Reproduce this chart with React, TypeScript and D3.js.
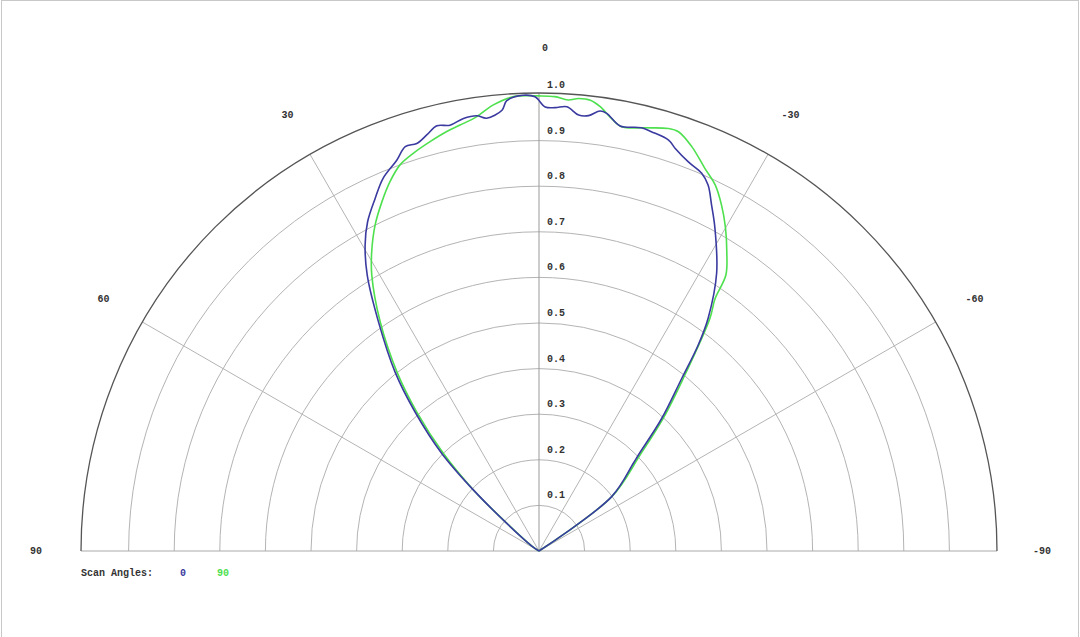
import React, { useEffect, useRef } from 'react'
import * as d3 from 'd3'

// scan angle 0 (blue), degrees (+ = left) and relative amplitude
const blueAngles = [-90, -60, -53.2, -47.1, -46.0, -42.8, -39.6, -37.7, -36.0, -32.6, -28.6, -26.5, -24.8, -23.3, -21.0, -18.7, -17.5, -15.0, -13.6, -10.8, -8.8, -7.9, -6.5, -5.2, -3.6, -2.1, -0.8, 0.5, 2.0, 4.1, 4.8, 6.9, 8.1, 9.9, 11.8, 13.5, 15.1, 16.7, 18.3, 20.0, 22.7, 24.9, 27.5, 29.6, 31.9, 35.0, 38.8, 41.7, 44.9, 47.1, 49.4, 55, 90]
const blueValues = [0, 0, 0.199, 0.282, 0.303, 0.396, 0.491, 0.571, 0.631, 0.723, 0.806, 0.848, 0.884, 0.902, 0.914, 0.932, 0.945, 0.952, 0.955, 0.949, 0.971, 0.974, 0.961, 0.96, 0.976, 0.973, 0.974, 0.996, 1.0, 0.99, 0.97, 0.956, 0.964, 0.963, 0.954, 0.959, 0.945, 0.933, 0.934, 0.912, 0.886, 0.853, 0.814, 0.772, 0.713, 0.614, 0.504, 0.409, 0.302, 0.196, 0.093, 0.02, 0]

// scan angle 90 (green)
const greenAngles = [-90, -60, -53.2, -46.5, -43.1, -39.9, -36.3, -34.9, -34.1, -32.1, -30.0, -27.8, -25.7, -23.4, -20.7, -18.4, -17.0, -14.1, -11.0, -9.5, -7.8, -6.5, -5.0, -3.7, -2.0, 0, 3.2, 5.9, 8.2, 10.5, 12.4, 14.9, 17.5, 19.8, 22.0, 24.2, 26.7, 29.2, 31.2, 34.7, 38.4, 41.3, 44.4, 47.0, 49.2, 55, 90]
const greenValues = [0, 0, 0.2, 0.305, 0.399, 0.493, 0.633, 0.675, 0.731, 0.775, 0.818, 0.858, 0.891, 0.915, 0.948, 0.969, 0.969, 0.957, 0.948, 0.962, 0.984, 0.995, 0.996, 0.991, 0.997, 0.998, 0.998, 0.983, 0.962, 0.95, 0.942, 0.929, 0.915, 0.9, 0.873, 0.84, 0.8, 0.752, 0.708, 0.612, 0.502, 0.407, 0.3, 0.198, 0.094, 0.02, 0]

const ringTicks = [0.1, 0.2, 0.3, 0.4, 0.5, 0.6, 0.7, 0.8, 0.9, 1.0]
const spokeAngles = [90, 60, 30, 0, -30, -60, -90]
const legendLabels = ['0', '90']

const BLUE = '#3a3aa0'
const GREEN = '#4ee04e'
const FONT = '"Liberation Mono", "DejaVu Sans Mono", monospace'

const App = () => {
    const ref = useRef<SVGSVGElement>(null)

    useEffect(() => {
        draw()
    })

    const draw = () => {
        const width = 1080
        const height = 637
        const cx = 539
        const cy = 551
        const outer = 458

        const r = d3.scaleLinear().domain([0, 1]).range([0, outer - 2])
        const rad = (deg: number) => (deg * Math.PI) / 180

        const svg = d3.select(ref.current)
        svg.selectAll('*').remove()
        svg.attr('width', width).attr('height', height)

        svg.append('rect').attr('width', width).attr('height', height).attr('fill', '#fff')
        svg.append('rect')
            .attr('x', 1.5).attr('y', 0.5)
            .attr('width', width - 3).attr('height', height + 2)
            .attr('fill', 'none').attr('stroke', '#c8c8c8')

        const g = svg.append('g').attr('transform', `translate(${cx},${cy})`)

        const semi = (rr: number) => `M${-rr},0A${rr},${rr} 0 0 1 ${rr},0`

        // rings
        g.selectAll('.ring')
            .data(ringTicks.slice(0, -1))
            .enter()
            .append('path')
            .attr('d', (d) => semi(r(d)))
            .attr('fill', 'none')
            .attr('stroke', '#b4b4b4')
            .attr('stroke-width', 1)

        // spokes
        g.selectAll('.spoke')
            .data(spokeAngles.filter((a) => Math.abs(a) < 90))
            .enter()
            .append('line')
            .attr('x1', 0).attr('y1', 0)
            .attr('x2', (d) => -outer * Math.sin(rad(d)))
            .attr('y2', (d) => -outer * Math.cos(rad(d)))
            .attr('stroke', (d) => (d === 0 ? '#999' : '#b4b4b4'))
            .attr('stroke-width', 1)

        // baseline and outer edge
        g.append('line').attr('x1', -outer).attr('x2', outer).attr('y1', 0).attr('y2', 0)
            .attr('stroke', '#aaa').attr('stroke-width', 1.2)
        g.append('path').attr('d', semi(outer)).attr('fill', 'none')
            .attr('stroke', '#555').attr('stroke-width', 1.3)

        // ring labels
        g.selectAll('.rlabel')
            .data(ringTicks)
            .enter()
            .append('text')
            .attr('x', 8)
            .attr('y', (d) => -r(d) - 7)
            .attr('font-family', FONT)
            .attr('font-size', 10)
            .attr('font-weight', 'bold')
            .attr('fill', '#333')
            .text((d) => d.toFixed(1))

        // angle labels
        g.selectAll('.alabel')
            .data(spokeAngles)
            .enter()
            .append('text')
            .attr('x', (d) => -503 * Math.sin(rad(d)) + (d === 0 ? 6 : 0))
            .attr('y', (d) => -503 * Math.cos(rad(d)))
            .attr('text-anchor', 'middle')
            .attr('dominant-baseline', 'middle')
            .attr('font-family', FONT)
            .attr('font-size', 10)
            .attr('font-weight', 'bold')
            .attr('fill', '#333')
            .text((d) => String(d))

        // series (centripetal catmull-rom to soften the hand-read points)
        const line = d3.lineRadial<[number, number]>()
            .angle((d) => -rad(d[0]))
            .radius((d) => r(d[1]))
            .curve(d3.curveCatmullRom.alpha(0.5))

        const series = [
            { pts: d3.zip(greenAngles, greenValues) as [number, number][], color: GREEN },
            { pts: d3.zip(blueAngles, blueValues) as [number, number][], color: BLUE },
        ]
        g.selectAll('.series')
            .data(series)
            .enter()
            .append('path')
            .attr('d', (d) => line(d.pts))
            .attr('fill', 'none')
            .attr('stroke', (d) => d.color)
            .attr('stroke-width', 1.6)
            .attr('stroke-linejoin', 'round')

        // legend
        const legend = svg.append('g').attr('font-family', FONT).attr('font-size', 10).attr('font-weight', 'bold')
        legend.append('text').attr('x', 81).attr('y', 573).attr('dominant-baseline', 'middle')
            .attr('fill', '#333').text('Scan Angles:')
        legend.selectAll('.leg')
            .data(legendLabels)
            .enter()
            .append('text')
            .attr('x', (d, i) => 183 + i * 40)
            .attr('y', 573)
            .attr('text-anchor', 'middle')
            .attr('dominant-baseline', 'middle')
            .attr('fill', (d, i) => (i === 0 ? BLUE : GREEN))
            .text((d) => d)
    }

    return (
        <div style={{ position: 'absolute', left: 0, top: 0 }}>
            <svg ref={ref}></svg>
        </div>
    )
}

export default App
